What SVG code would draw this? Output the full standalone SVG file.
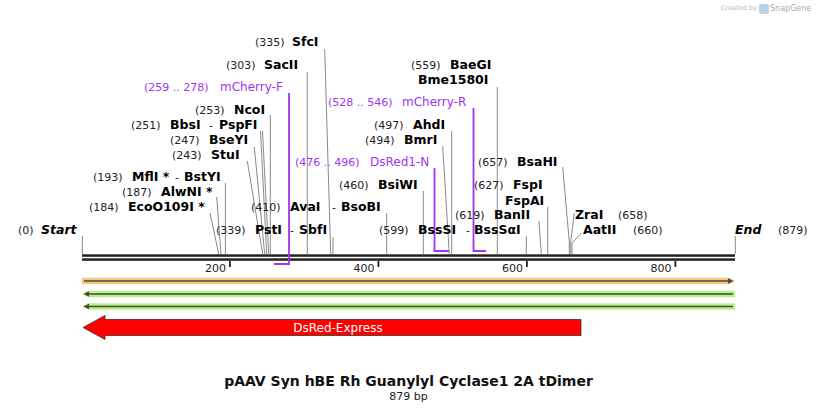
<svg xmlns="http://www.w3.org/2000/svg" width="818" height="412" viewBox="0 0 818 412">
<style>
text{font-family:"DejaVu Sans","Liberation Sans",sans-serif}
.n{font-size:11px;fill:#222}
.e{font-size:12.5px;font-weight:bold;fill:#000}
.p{font-size:11px;fill:#a034f0}
.pn{font-size:12px;fill:#a034f0}
.c{stroke:#8a8a8a;stroke-width:1;fill:none}
.pr{stroke:#a034f0;stroke-width:1.8;fill:none}
.tk{fill:#222}
.dl{stroke:#4a4a36;stroke-width:1.6;fill:none}
</style>
<rect width="818" height="412" fill="#fff"/>

<g id="watermark">
<text x="721" y="10" style="font-size:6.5px;fill:#bbb">Created by</text>
<path d="M761,4 h6 a2,2 0 0 1 2,2 v6 a2,2 0 0 1 -2,2 h-6 a2,2 0 0 1 -2,-2 v-6 a2,2 0 0 1 2,-2z" fill="#bcd3e6"/>
<text x="770" y="11" style="font-size:8px;fill:#aaa">SnapGene</text>
</g>

<g id="backbone">
<rect x="82" y="254.3" width="653" height="2.5" fill="#222"/>
<rect x="82" y="258.3" width="653" height="2.5" fill="#222"/>
<rect class="tk" x="229" y="261" width="1.8" height="6"/>
<rect class="tk" x="377.5" y="261" width="1.8" height="6"/>
<rect class="tk" x="526" y="261" width="1.8" height="6"/>
<rect class="tk" x="674.5" y="261" width="1.8" height="6"/>
<text class="n" x="226" y="272" text-anchor="end">200</text>
<text class="n" x="374.5" y="272" text-anchor="end">400</text>
<text class="n" x="523" y="272" text-anchor="end">600</text>
<text class="n" x="671.5" y="272" text-anchor="end">800</text>
</g>

<g id="connectors">
<path class="c" d="M82.3,236 V254"/>
<path class="c" d="M735.3,236 V254"/>
<path class="c" d="M210,213 L218.7,254"/>
<path class="c" d="M216.7,197 L221,254"/>
<path class="c" d="M225.4,183 V254"/>
<path class="c" d="M247.3,161 L262.7,254"/>
<path class="c" d="M254.3,147 L264.7,254"/>
<path class="c" d="M260.5,131 L266.7,254"/>
<path class="c" d="M262.5,131 L268.7,254"/>
<path class="c" d="M270.3,115 V254"/>
<path class="c" d="M307.3,72 V254"/>
<path class="c" d="M324.7,49 L330.7,254"/>
<path class="c" d="M333,237 V254"/>
<path class="c" d="M386.7,213 V254"/>
<path class="c" d="M423.3,191 V254"/>
<path class="c" d="M442.7,146 L449.3,254"/>
<path class="c" d="M451.7,131 V254"/>
<path class="c" d="M497.3,87 V254"/>
<path class="c" d="M526.3,236 V254"/>
<path class="c" d="M539,221 L541.3,254"/>
<path class="c" d="M547.7,207 V254"/>
<path class="c" d="M562.7,167 L569.3,242 V254"/>
<path class="c" d="M574.3,213 L570.7,242 V254"/>
<path class="c" d="M581.5,233 L572,243 V254"/>
<path class="pr" d="M289,93 V264 H274"/>
<path class="pr" d="M473.5,108 V251 H486"/>
<path class="pr" d="M434.5,168 V251 H449"/>
</g>

<g id="start"><text class="n" x="18" y="233.5">(0)</text><text class="e" x="41" y="233.5" font-style="italic">Start</text></g>
<g id="end"><text class="e" x="735" y="233.5" font-style="italic">End</text><text class="n" x="778" y="233.5">(879)</text></g>
<g id="SfcI"><text class="n" x="255" y="46">(335)</text><text class="e" x="292" y="46">SfcI</text></g>
<g id="SacII"><text class="n" x="226" y="68.5">(303)</text><text class="e" x="264" y="68.5">SacII</text></g>
<g id="mCherry-F"><text class="p" x="144" y="90.5">(259 .. 278)</text><text class="pn" x="220" y="90.5">mCherry-F</text></g>
<g id="NcoI"><text class="n" x="195" y="114">(253)</text><text class="e" x="234" y="114">NcoI</text></g>
<g id="BbsI"><text class="n" x="131" y="128.5">(251)</text><text class="e" x="170" y="128.5">BbsI</text><text class="n" x="209" y="128.5">-</text><text class="e" x="219" y="128.5">PspFI</text></g>
<g id="BseYI"><text class="n" x="170" y="144">(247)</text><text class="e" x="209" y="144">BseYI</text></g>
<g id="StuI"><text class="n" x="172" y="159">(243)</text><text class="e" x="211" y="159">StuI</text></g>
<g id="MflI"><text class="n" x="93" y="180.5">(193)</text><text class="e" x="132" y="180.5">MflI *</text><text class="n" x="175" y="180.5">-</text><text class="e" x="184" y="180.5">BstYI</text></g>
<g id="AlwNI"><text class="n" x="122" y="195.5">(187)</text><text class="e" x="161" y="195.5">AlwNI *</text></g>
<g id="EcoO109I"><text class="n" x="89" y="211">(184)</text><text class="e" x="128" y="211">EcoO109I *</text></g>
<g id="AvaI"><text class="n" x="251" y="211">(410)</text><text class="e" x="290" y="211">AvaI</text><text class="n" x="332" y="211">-</text><text class="e" x="341" y="211">BsoBI</text></g>
<g id="PstI"><text class="n" x="216" y="233.5">(339)</text><text class="e" x="255" y="233.5">PstI</text><text class="n" x="290" y="233.5">-</text><text class="e" x="299" y="233.5">SbfI</text></g>
<g id="BaeGI"><text class="n" x="411" y="68.5">(559)</text><text class="e" x="450" y="68.5">BaeGI</text><text class="e" x="418" y="84">Bme1580I</text></g>
<g id="mCherry-R"><text class="p" x="328" y="106">(528 .. 546)</text><text class="pn" x="402" y="106">mCherry-R</text></g>
<g id="AhdI"><text class="n" x="374" y="129">(497)</text><text class="e" x="413" y="129">AhdI</text></g>
<g id="BmrI"><text class="n" x="365" y="144">(494)</text><text class="e" x="404" y="144">BmrI</text></g>
<g id="DsRed1-N"><text class="p" x="295" y="165.5">(476 .. 496)</text><text class="pn" x="370" y="165.5">DsRed1-N</text></g>
<g id="BsiWI"><text class="n" x="339" y="189">(460)</text><text class="e" x="378" y="189">BsiWI</text></g>
<g id="BssSI"><text class="n" x="379" y="233.5">(599)</text><text class="e" x="418" y="233.5">BssSI</text><text class="n" x="466" y="233.5">-</text><text class="e" x="474" y="233.5">BssSαI</text></g>
<g id="BsaHI"><text class="n" x="478" y="165.5">(657)</text><text class="e" x="517" y="165.5">BsaHI</text></g>
<g id="FspI"><text class="n" x="474" y="189">(627)</text><text class="e" x="513" y="189">FspI</text><text class="e" x="505" y="204.5">FspAI</text></g>
<g id="BanII"><text class="n" x="455" y="218.5">(619)</text><text class="e" x="494" y="218.5">BanII</text></g>
<g id="ZraI"><text class="e" x="575" y="218.5">ZraI</text><text class="n" x="618" y="218.5">(658)</text></g>
<g id="AatII"><text class="e" x="583" y="233.5">AatII</text><text class="n" x="633" y="233.5">(660)</text></g>

<g id="feature-orange">
<polygon points="82,277.8 729,277.8 735,281 729,284.2 82,284.2" fill="#f8c684"/>
<path class="dl" d="M84,281 H730"/>
<polygon points="728,278.3 733.5,281 728,283.7" fill="#4a4a36"/>
</g>
<g id="feature-green1">
<polygon points="82,294 88,290.8 735,290.8 735,297.2 88,297.2" fill="#b8f08e"/>
<path class="dl" d="M88,294 H733"/>
<polygon points="89,291.3 83.5,294 89,296.7" fill="#4a4a36"/>
</g>
<g id="feature-green2">
<polygon points="82,306.5 88,303.3 735,303.3 735,309.7 88,309.7" fill="#b8f08e"/>
<path class="dl" d="M88,306.5 H733"/>
<polygon points="89,303.8 83.5,306.5 89,309.2" fill="#4a4a36"/>
</g>
<g id="DsRed-Express">
<polygon points="83,327.5 105,315.5 105,319.5 581,319.5 581,335.5 105,335.5 105,339.5" fill="#ff0000" stroke="#333" stroke-width="0.8"/>
<text x="338" y="331.5" text-anchor="middle" style="font-size:12px;fill:#fff">DsRed-Express</text>
</g>

<g id="title">
<text x="408.5" y="385.5" text-anchor="middle" style="font-size:14px;font-weight:bold;fill:#111">pAAV Syn hBE Rh Guanylyl Cyclase1 2A tDimer</text>
<text x="408.5" y="400" text-anchor="middle" style="font-size:11px;fill:#222">879 bp</text>
</g>
</svg>
